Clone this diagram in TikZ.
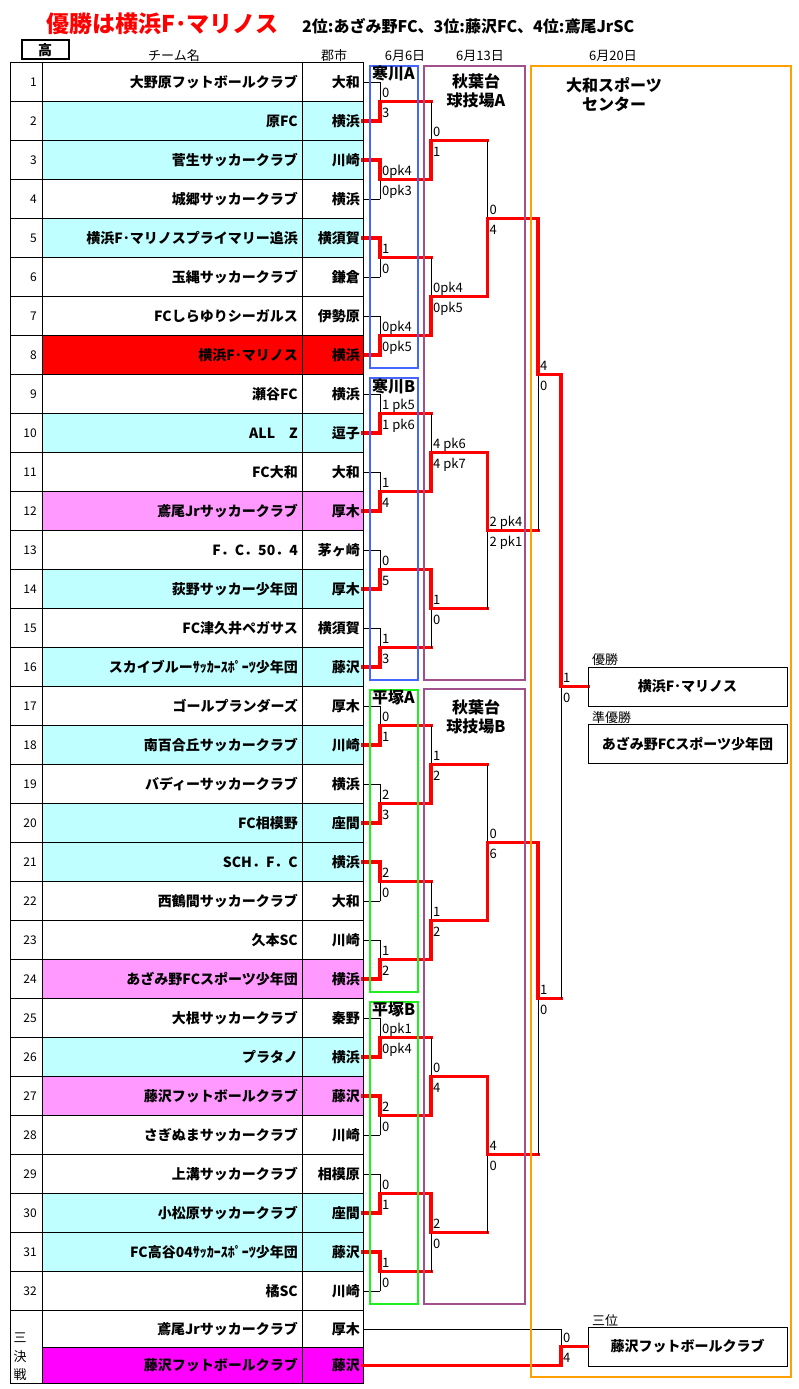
\documentclass[tikz,border=0pt]{standalone}
\usepackage{fontspec}
\setmainfont{Noto Sans CJK JP}
\usetikzlibrary{positioning}
\definecolor{rowcyan}{HTML}{C0FFFF}
\definecolor{rowpink}{HTML}{FF99FF}
\definecolor{rowmag}{HTML}{FF00FF}
\definecolor{vblue}{HTML}{4466FF}
\definecolor{vgreen}{HTML}{20F020}
\definecolor{vpurple}{HTML}{A0508C}
\definecolor{vorange}{HTML}{FFA000}
\tikzstyle{team}=[inner sep=0pt, anchor=east, font=\fontsize{14}{14}\selectfont\bfseries]
\tikzstyle{seed}=[inner sep=0pt, anchor=east, font=\fontsize{12}{12}\selectfont]
\tikzstyle{score}=[inner sep=0pt, anchor=base west, font=\fontsize{13}{13}\selectfont]
\tikzstyle{heading}=[inner sep=0pt, font=\fontsize{13}{13}\selectfont]
\tikzstyle{venue}=[inner sep=0pt, align=center, font=\fontsize{16}{19}\selectfont\bfseries]
\tikzstyle{caption}=[inner sep=0pt, anchor=base west, font=\fontsize{13}{13}\selectfont]
\tikzstyle{result}=[draw, line width=1pt, minimum width=199pt, minimum height=39pt, inner sep=0pt, font=\fontsize{14}{14}\selectfont\bfseries]
\tikzstyle{loser}=[line width=1pt]
\tikzstyle{winner}=[red, line width=3.5pt, line cap=rect]
\tikzstyle{court}=[line width=2pt]

\begin{document}
\begin{tikzpicture}[x=1pt, y=-1pt]
\useasboundingbox (0,0) rectangle (799,1389);

% titles and headings
\node[anchor=west, inner sep=0pt, text=red, font=\fontsize{23}{23}\selectfont\bfseries] (title) at (46,24) {優勝は横浜F･マリノス};
\node[anchor=west, inner sep=0pt, font=\fontsize{16}{16}\selectfont\bfseries] (places) at (302,26) {2位:あざみ野FC、3位:藤沢FC、4位:鳶尾JrSC};
\node[draw, line width=2pt, minimum width=47pt, minimum height=19pt, inner sep=0pt, font=\fontsize{14}{14}\selectfont\bfseries] (grade) at (45,50) {高};
\node[heading] (hteam) at (174,56) {チーム名};
\node[heading] (hcity) at (334,56) {郡市};
\node[heading] (day1) at (405,56) {6月6日};
\node[heading] (day2) at (480,56) {6月13日};
\node[heading] (day3) at (613,56) {6月20日};

% table rows
\foreach \i/\team/\city/\bg/\stub in {
    1/大野原フットボールクラブ/大和/white/loser,
    2/原FC/横浜/rowcyan/winner,
    3/菅生サッカークラブ/川崎/rowcyan/winner,
    4/城郷サッカークラブ/横浜/white/loser,
    5/横浜F･マリノスプライマリー追浜/横須賀/rowcyan/winner,
    6/玉縄サッカークラブ/鎌倉/white/loser,
    7/FCしらゆりシーガルス/伊勢原/white/loser,
    8/横浜F･マリノス/横浜/red/winner,
    9/瀬谷FC/横浜/white/loser,
    10/ALL　Z/逗子/rowcyan/winner,
    11/FC大和/大和/white/loser,
    12/鳶尾Jrサッカークラブ/厚木/rowpink/winner,
    13/F．C．50．4/茅ヶ崎/white/loser,
    14/荻野サッカー少年団/厚木/rowcyan/winner,
    15/FC津久井ペガサス/横須賀/white/loser,
    16/スカイブルーｻｯｶｰｽﾎﾟｰﾂ少年団/藤沢/rowcyan/winner,
    17/ゴールプランダーズ/厚木/white/loser,
    18/南百合丘サッカークラブ/川崎/rowcyan/winner,
    19/バディーサッカークラブ/横浜/white/loser,
    20/FC相模野/座間/rowcyan/winner,
    21/SCH．F．C/横浜/rowcyan/winner,
    22/西鶴間サッカークラブ/大和/white/loser,
    23/久本SC/川崎/white/loser,
    24/あざみ野FCスポーツ少年団/横浜/rowpink/winner,
    25/大根サッカークラブ/秦野/white/loser,
    26/プラタノ/横浜/rowcyan/winner,
    27/藤沢フットボールクラブ/藤沢/rowpink/winner,
    28/さぎぬまサッカークラブ/川崎/white/loser,
    29/上溝サッカークラブ/相模原/white/loser,
    30/小松原サッカークラブ/座間/rowcyan/winner,
    31/FC高谷04ｻｯｶｰｽﾎﾟｰﾂ少年団/藤沢/rowcyan/winner,
    32/橘SC/川崎/white/loser}{
  \pgfmathsetmacro\ytop{62.5+39*(\i-1)}
  \pgfmathsetmacro\ymid{\ytop+19.5}
  \fill[\bg] (42,\ytop) rectangle (363,\ytop+39);
  \node[seed] (n\i) at (37,\ymid) {\i};
  \node[team] (t\i) at (298,\ymid) {\team};
  \node[team] (c\i) at (360,\ymid) {\city};
  \coordinate (s\i) at (363,\ymid);
  \coordinate (e\i) at (380,\ymid);
  \draw[\stub] (s\i) -- (e\i);
}

% third place rows
\fill[rowmag] (42,1347) rectangle (363,1383.5);
\node[team] (t33) at (298,1329) {鳶尾Jrサッカークラブ};
\node[team] (c33) at (360,1329) {厚木};
\node[team] (t34) at (298,1365.5) {藤沢フットボールクラブ};
\node[team] (c34) at (360,1365.5) {藤沢};
\node[heading] (k1) at (20,1338) {三};
\node[heading] (k2) at (20,1357) {決};
\node[heading] (k3) at (20,1375) {戦};
\coordinate (s33) at (363,1329);
\coordinate (s34) at (363,1365.5);

% grid
\foreach \k in {0,...,32}
  \draw[loser] (10,62.5+39*\k) -- (363,62.5+39*\k);
\draw[loser] (42,1347) -- (363,1347);
\draw[loser] (10,1383.5) -- (363,1383.5);
\foreach \x in {10,42,302,363}
  \draw[loser] (\x,62.5) -- (\x,1383.5);

% bracket: level/match/winner side/top score/bottom score
\foreach \lv/\mi/\w/\ptop/\pbot in {
    1/1/1/0/3, 1/2/-1/0pk4/0pk3, 1/3/-1/1/0, 1/4/1/0pk4/0pk5,
    1/5/1/1 pk5/1 pk6, 1/6/1/1/4, 1/7/1/0/5, 1/8/1/1/3,
    1/9/1/0/1, 1/10/1/2/3, 1/11/-1/2/0, 1/12/1/1/2,
    1/13/1/0pk1/0pk4, 1/14/-1/2/0, 1/15/1/0/1, 1/16/-1/1/0,
    2/1/1/0/1, 2/2/1/0pk4/0pk5, 2/3/1/4 pk6/4 pk7, 2/4/-1/1/0,
    2/5/1/1/2, 2/6/1/1/2, 2/7/1/0/4, 2/8/-1/2/0,
    3/1/1/0/4, 3/2/-1/2 pk4/2 pk1, 3/3/1/0/6, 3/4/-1/4/0,
    4/1/-1/4/0, 4/2/-1/1/0,
    5/1/-1/1/0}{
  \pgfmathsetmacro\sz{2^(\lv-1)}
  \pgfmathsetmacro\yt{62.5+39*((\mi-1)*2*\sz+\sz/2)}
  \pgfmathsetmacro\yb{\yt+39*\sz}
  \pgfmathsetmacro\yo{\yt+19.5*\sz}
  \pgfmathsetmacro\yw{\yo+\w*19.5*\sz}
  \pgfmathsetmacro\xl{{380,431,487.5,538,561}[\lv-1]}
  \pgfmathsetmacro\xn{{431,487.5,538,561,588}[\lv-1]}
  \coordinate (m\lv-\mi) at (\xl,\yo);
  \draw[loser] (\xl,\yt) -- (\xl,\yb);
  \draw[winner] (\xl,\yw) -- (m\lv-\mi) -- (\xn,\yo);
  \node[score] (a\lv-\mi) at (\xl+2,\yo-4) {\ptop};
  \node[score] (b\lv-\mi) at (\xl+2,\yo+16) {\pbot};
}

% results
\node[caption] (l1) at (592,664) {優勝};
\node[result] (champ) at (687.5,686.5) {横浜F･マリノス};
\node[caption] (l2) at (592,722) {準優勝};
\node[result] (second) at (687.5,744) {あざみ野FCスポーツ少年団};
\node[caption] (l3) at (592,1325) {三位};
\node[result] (third) at (687.5,1346.5) {藤沢フットボールクラブ};

% third place match
\coordinate (p3) at (561,1346.5);
\draw[loser] (s33) -| (p3);
\draw[winner] (s34) -| (p3) -- (third.west);
\node[score] (a6-1) at (563,1342.5) {0};
\node[score] (b6-1) at (563,1362.5) {4};

% venues
\draw[court, vblue] (370,66) rectangle (418,368);
\draw[court, vblue] (370,378) rectangle (418,680);
\draw[court, vgreen] (370,690) rectangle (418,992);
\draw[court, vgreen] (370,1002) rectangle (418,1304);
\draw[court, vpurple] (424,66) rectangle (525,680);
\draw[court, vpurple] (424,689) rectangle (525,1304);
\draw[court, vorange] (531,66) rectangle (791,1377);
\node[venue, anchor=west] (sA) at (372,74) {寒川A};
\node[venue, anchor=west] (sB) at (372,386) {寒川B};
\node[venue, anchor=west] (hA) at (372,698) {平塚A};
\node[venue, anchor=west] (hB) at (372,1010) {平塚B};
\node[venue] (aA) at (476,91) {秋葉台\\球技場A};
\node[venue] (aB) at (476,717) {秋葉台\\球技場B};
\node[venue] (yamato) at (614,95) {大和スポーツ\\センター};
\end{tikzpicture}
\end{document}
